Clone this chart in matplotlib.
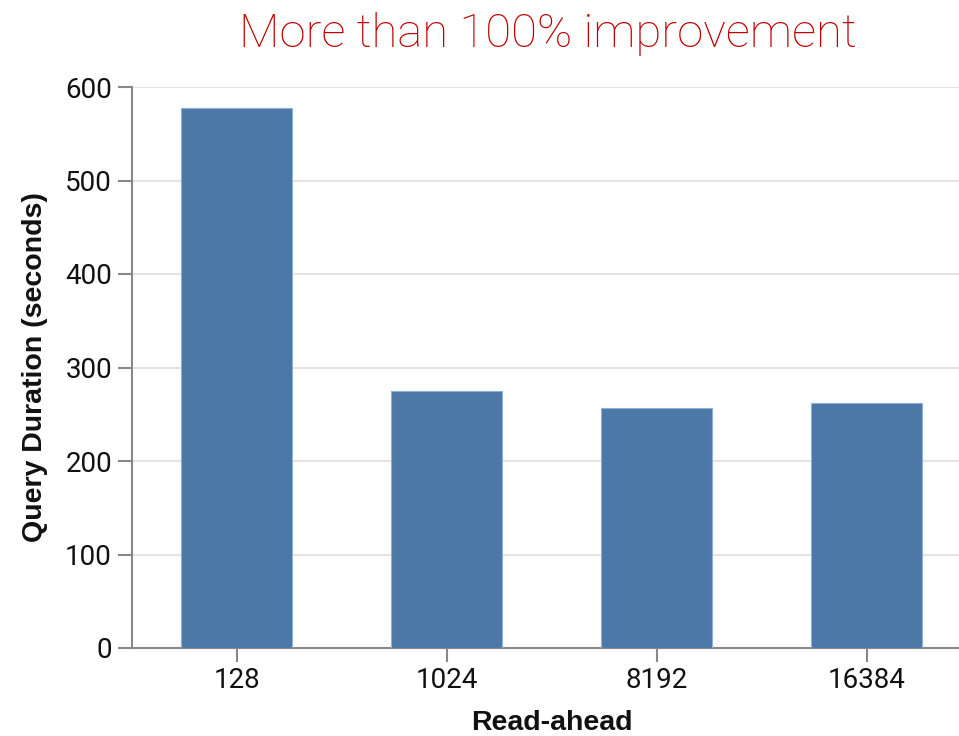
import matplotlib
matplotlib.use("Agg")
import matplotlib.pyplot as plt
import numpy as np

# read-ahead sizes and the query time measured for each
read_ahead = ["128", "1024", "8192", "16384"]
duration_s = [578, 275, 257, 262]
y_ticks = [0, 100, 200, 300, 400, 500, 600]

bar_color = "#4c78a8"
axis_gray = "#888888"
grid_gray = "#dddddd"

fig = plt.figure(figsize=(9.59, 7.36), dpi=100)
# the plot area runs a little past the right edge of the figure
ax = fig.add_axes([131.5 / 959, 88 / 736, 840 / 959, 561 / 736])

x = np.arange(len(read_ahead))
ax.bar(x, duration_s, width=0.533, color=bar_color,
       edgecolor="#8fb0d4", linewidth=0.8, zorder=3)

ax.set_xlim(-0.5, len(read_ahead) - 0.5)
ax.set_ylim(0, 600)
ax.set_xticks(x)
ax.set_xticklabels(read_ahead)
ax.set_yticks(y_ticks)

ax.grid(axis="y", color=grid_gray, linewidth=1.1, zorder=0)
ax.set_axisbelow(True)

for side in ["top", "right"]:
    ax.spines[side].set_visible(False)
for side in ["left", "bottom"]:
    ax.spines[side].set_color(axis_gray)
    ax.spines[side].set_linewidth(1.5)

ax.tick_params(axis="both", colors=axis_gray, width=1.5, length=10,
               labelcolor="#111111")
ax.tick_params(axis="y", pad=4)
ax.tick_params(axis="x", pad=4)
for lab in ax.get_xticklabels() + ax.get_yticklabels():
    lab.set_fontfamily("Roboto")
    lab.set_fontsize(20)

label_font = dict(family="Liberation Sans", weight="bold", size=20.5,
                  color="#111111")
ax.set_ylabel("Query Duration (seconds)", **label_font)
ax.yaxis.label.set_va("center")
ax.yaxis.set_label_coords(-0.1149, 0.5)
ax.set_xlabel("Read-ahead", **label_font)
ax.xaxis.label.set_va("baseline")
ax.xaxis.set_label_coords(0.5, -0.1465)

ax.text(0.4958, 1.0713, "More than 100% improvement", transform=ax.transAxes,
        ha="center", va="baseline", color="#c00000",
        family="Roboto", weight="light", size=34)

fig.savefig("out.png", dpi=100)
